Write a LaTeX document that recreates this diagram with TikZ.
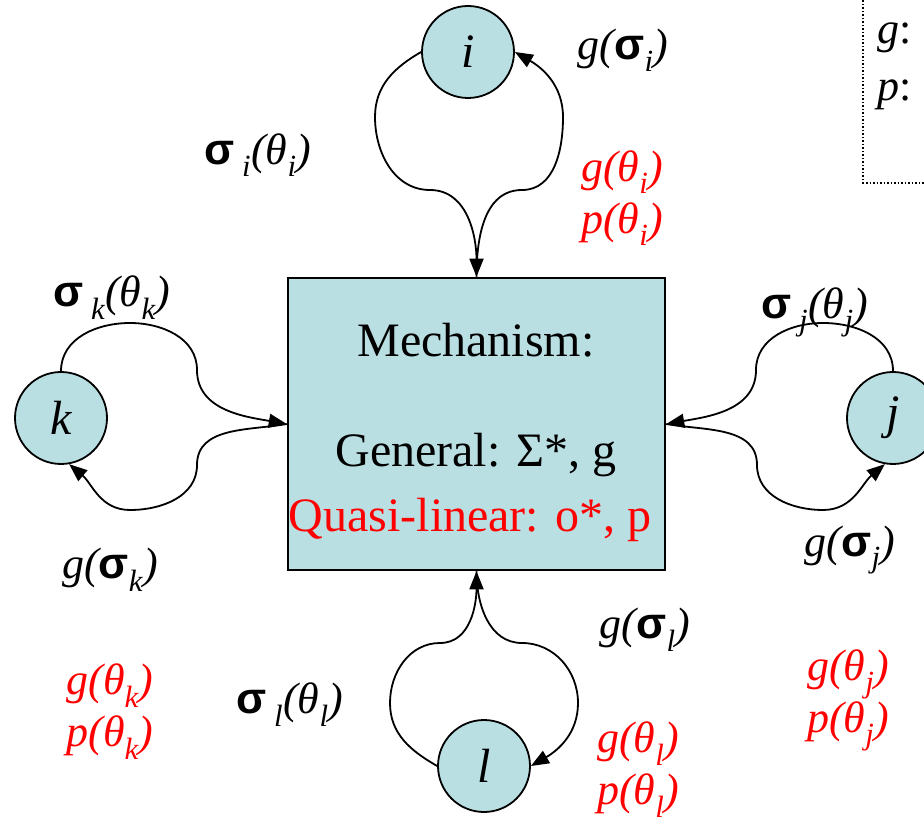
\documentclass[tikz,border=0pt]{standalone}
\usepackage{fontspec}
\setmainfont{Liberation Serif}
\newfontfamily\sigfont{Liberation Sans}
\usepackage{xcolor}
\usetikzlibrary{arrows.meta}

\definecolor{mechfill}{HTML}{B9DFE3}
\newcommand{\sig}{{\sigfont\upshape\bfseries σ}}
\newcommand{\lo}[1]{\textsubscript{#1}}

\begin{document}
\begin{tikzpicture}[x=1pt, y=1pt,
    agent/.style={circle, draw, line width=1.8pt, fill=mechfill,
                  minimum size=92pt, inner sep=0pt,
                  font=\fontsize{48}{54}\selectfont\itshape},
    mech/.style={rectangle, draw, line width=2.5pt, fill=mechfill,
                 minimum width=377pt, minimum height=292pt},
    boxtext/.style={font=\fontsize{48}{54}\selectfont, inner sep=0pt},
    lbl/.style={font=\fontsize{44}{52}\selectfont\itshape, inner sep=0pt},
    redlbl/.style={lbl, text=red, align=left},
    flow/.style={-{Triangle[length=18pt,width=14pt]}, line width=1.8pt}
]
\clip (0,0) rectangle (924,823);

% legend box, cut by the page edge
\draw[dotted, line width=1.5pt] (863,840) -- (863,640) -- (940,640);
\node[lbl, anchor=west] (legg) at (877,785) {g\upshape :};
\node[lbl, anchor=west] (legp) at (877,728) {p\upshape :};

\node[mech] (mech) at (476.5,399) {};
\node[boxtext] (mtitle) at (476,483) {Mechanism:};
\node[boxtext] (mgen) at (476,368) {General: Σ*, g};
\node[boxtext, text=red] (mql) at (470,303) {Quasi-linear: o*, p};

\node[agent] (i) at (468,771) {i};
\node[agent] (k) at (61,405) {k};
\node[agent] (j) at (893,405) {j};
\node[agent] (l) at (484,57) {l};

% agent i
\draw[flow] (i.west) to[out=210,in=90] (375,706) to[out=-90,in=180] (430,633)
    to[out=0,in=90] (mech.north);
\draw[flow] (mech.north) to[out=90,in=180] (522,633) to[out=0,in=-90] (563,706)
    to[out=90,in=-30] (i.east);
% agent k
\draw[flow] (k.north) to[out=90,in=180] (130,500) to[out=0,in=90] (197,453)
    to[out=-90,in=170] (mech.west);
\draw[flow] (mech.west) to[out=190,in=90] (197,358) to[out=-90,in=0] (130,313)
    to[out=180,in=-40] (k.-80);
% agent j
\draw[flow] (j.north) to[out=90,in=0] (823,500) to[out=180,in=90] (756,453)
    to[out=-90,in=10] (mech.east);
\draw[flow] (mech.east) to[out=-10,in=90] (757,358) to[out=-90,in=180] (823,313)
    to[out=0,in=-140] (j.-100);
% agent l
\draw[flow] (l.west) to[out=150,in=-90] (390,120) to[out=90,in=180] (440,180)
    to[out=0,in=-90] (mech.south);
\draw[flow] (mech.south) to[out=-90,in=180] (522,180) to[out=0,in=90] (578,120)
    to[out=-90,in=30] (l.east);

% labels
\node[lbl] (si) at (258,668) {\sig\,\lo{i}(θ\lo{i})};
\node[lbl] (gi) at (623,773) {g(\sig\lo{i})};
\node[redlbl] (ti) at (622,625) {g(θ\lo{i})\\p(θ\lo{i})};

\node[lbl] (sk) at (112,525) {\sig\,\lo{k}(θ\lo{k})};
\node[lbl] (gk) at (110,253) {g(\sig\lo{k})};
\node[redlbl] (tk) at (110,111) {g(θ\lo{k})\\p(θ\lo{k})};

\node[lbl] (sj) at (815,511) {\sig\,\lo{j}(θ\lo{j})};
\node[lbl] (gj) at (850,273) {g(\sig\lo{j})};
\node[redlbl] (tj) at (848,123) {g(θ\lo{j})\\p(θ\lo{j})};

\node[lbl] (sl) at (290,118) {\sig\,\lo{l}(θ\lo{l})};
\node[lbl] (gl) at (645,193) {g(\sig\lo{l})};
\node[redlbl] (tl) at (638,53) {g(θ\lo{l})\\p(θ\lo{l})};
\end{tikzpicture}
\end{document}
